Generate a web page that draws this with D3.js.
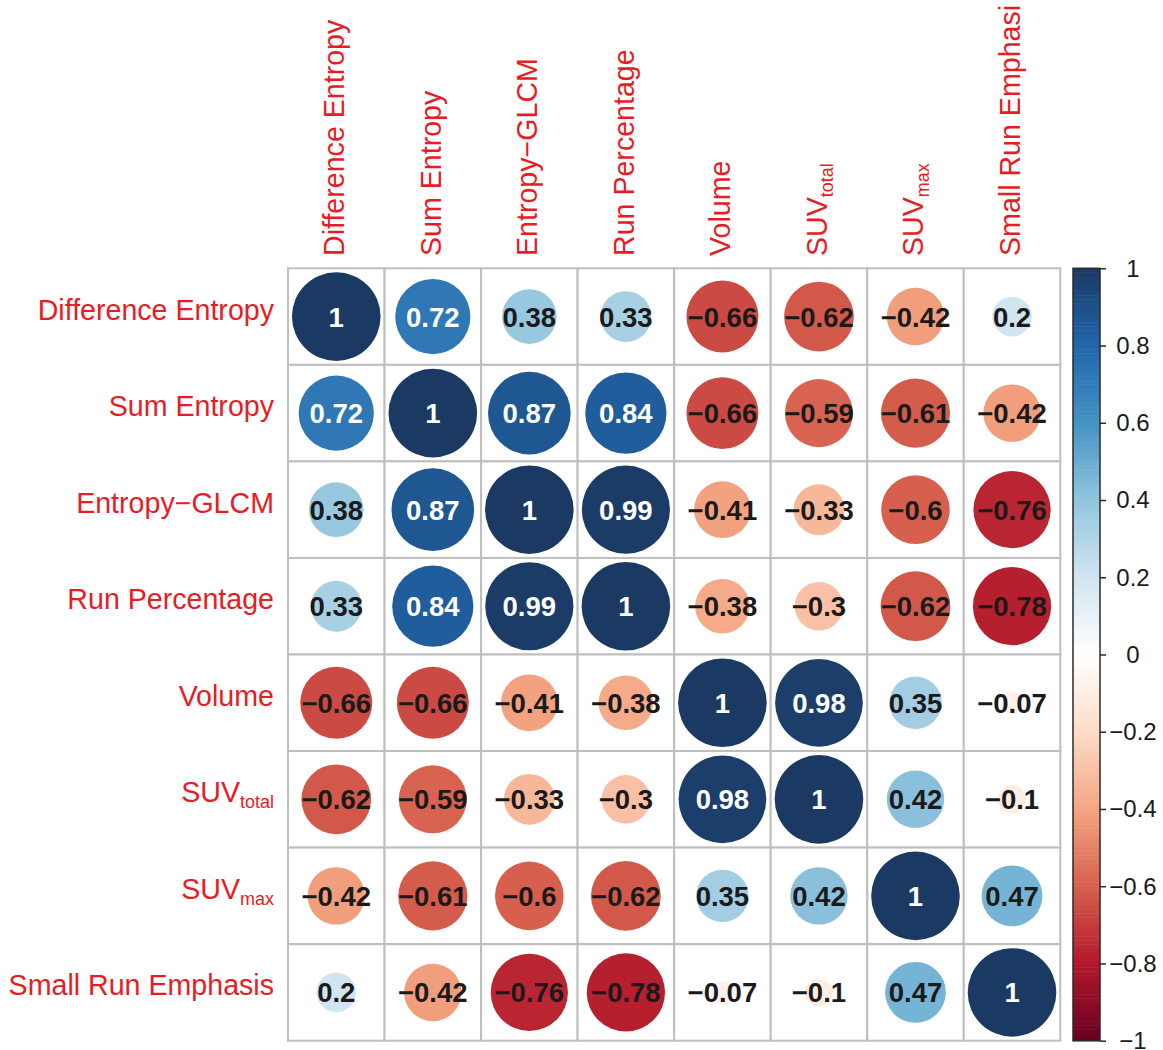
<!DOCTYPE html>
<html>
<head>
<meta charset="utf-8">
<script src="https://cdn.jsdelivr.net/npm/d3@7"></script>
<style>
  body { margin: 0; background: #fff; }
  svg { display: block; font-family: "Liberation Sans", Arial, sans-serif; }
</style>
</head>
<body>
<script>
// variable names (main part + subscript part)
const labelMain = ["Difference Entropy", "Sum Entropy", "Entropy\u2212GLCM", "Run Percentage",
                   "Volume", "SUV", "SUV", "Small Run Emphasis"];
const labelSub = ["", "", "", "", "", "total", "max", ""];

// correlation matrix, row by row
const corr = [
  [ 1.00,  0.72,  0.38,  0.33, -0.66, -0.62, -0.42,  0.20],
  [ 0.72,  1.00,  0.87,  0.84, -0.66, -0.59, -0.61, -0.42],
  [ 0.38,  0.87,  1.00,  0.99, -0.41, -0.33, -0.60, -0.76],
  [ 0.33,  0.84,  0.99,  1.00, -0.38, -0.30, -0.62, -0.78],
  [-0.66, -0.66, -0.41, -0.38,  1.00,  0.98,  0.35, -0.07],
  [-0.62, -0.59, -0.33, -0.30,  0.98,  1.00,  0.42, -0.10],
  [-0.42, -0.61, -0.60, -0.62,  0.35,  0.42,  1.00,  0.47],
  [ 0.20, -0.42, -0.76, -0.78, -0.07, -0.10,  0.47,  1.00]
];

const colorStops = [-1, -0.8, -0.6, -0.4, -0.2, 0, 0.2, 0.4, 0.6, 0.8, 1];
const colorbarTicks = [-1, -0.8, -0.6, -0.4, -0.2, 0, 0.2, 0.4, 0.6, 0.8, 1];

const W = 1163, H = 1050;
const grid = { left: 288, top: 268.3, right: 1060.3, bottom: 1040.7 };
const bar = { left: 1073, right: 1100 };
const RED = "#E81C24";

const palette = ["#67001F", "#B2182B", "#D6604D", "#F4A582", "#FDDBC7", "#FFFFFF",
                 "#D1E5F0", "#92C5DE", "#4393C3", "#2166AC", "#1B3A63"];

const color = d3.scaleLinear().domain(colorStops).range(palette).interpolate(d3.interpolateRgb);
const idx = d3.range(labelMain.length);
const x = d3.scaleBand().domain(idx).range([grid.left, grid.right]);
const y = d3.scaleBand().domain(idx).range([grid.top, grid.bottom]);
const r = d3.scaleSqrt().domain([0, 1]).range([0, 44.3]);

const svg = d3.select("body").append("svg").attr("width", W).attr("height", H);

// cells
const cells = [];
corr.forEach((row, i) => row.forEach((v, j) => cells.push({ i, j, v })));

svg.append("g").selectAll("rect").data(cells).join("rect")
  .attr("x", d => x(d.j)).attr("y", d => y(d.i))
  .attr("width", x.bandwidth()).attr("height", y.bandwidth())
  .attr("fill", "#fff").attr("stroke", "#BEBEBE").attr("stroke-width", 2);

svg.append("g").selectAll("circle").data(cells).join("circle")
  .attr("cx", d => x(d.j) + x.bandwidth() / 2)
  .attr("cy", d => y(d.i) + y.bandwidth() / 2)
  .attr("r", d => r(Math.abs(d.v)))
  .attr("fill", d => color(d.v));

const fmt = v => String(+v.toFixed(2)).replace("-", "\u2212");
svg.append("g").selectAll("text").data(cells).join("text")
  .attr("x", d => x(d.j) + x.bandwidth() / 2)
  .attr("y", d => y(d.i) + y.bandwidth() / 2 + 10)
  .attr("text-anchor", "middle")
  .attr("font-size", 27.5).attr("font-weight", "bold")
  .attr("fill", d => d.v > 0.6 ? "#fff" : "#1a1a1a")
  .text(d => fmt(d.v));

// labels, with optional subscript
function addLabel(sel, i) {
  sel.append("tspan").attr("font-size", 28.6).text(labelMain[i]);
  if (labelSub[i]) sel.append("tspan").attr("font-size", 18).attr("dy", 6).text(labelSub[i]);
}

svg.append("g").selectAll("text").data(idx).join("text")
  .attr("x", 274)
  .attr("y", i => y(i) + y.bandwidth() / 2 + 3)
  .attr("text-anchor", "end").attr("fill", RED)
  .each(function (i) { addLabel(d3.select(this), i); });

// column labels (rotated), top edge trimmed like the original
svg.append("clipPath").attr("id", "topclip")
  .append("rect").attr("x", 0).attr("y", 4).attr("width", W).attr("height", 262);

svg.append("g").attr("clip-path", "url(#topclip)")
  .selectAll("text").data(idx).join("text")
  .attr("transform", i => `translate(${x(i) + x.bandwidth() / 2 + 8},256) rotate(-90)`)
  .attr("text-anchor", "start").attr("fill", RED)
  .each(function (i) { addLabel(d3.select(this), i); });

// colour bar
const yb = d3.scaleLinear().domain([-1, 1]).range([grid.bottom, grid.top]);
const steps = d3.range(200).map(k => -1 + (k + 0.5) * 0.01);
svg.append("g").selectAll("rect").data(steps).join("rect")
  .attr("x", bar.left).attr("width", bar.right - bar.left)
  .attr("y", d => yb(d + 0.005)).attr("height", d => yb(d - 0.005) - yb(d + 0.005) + 0.5)
  .attr("fill", d => color(d));
svg.append("rect")
  .attr("x", bar.left).attr("y", grid.top)
  .attr("width", bar.right - bar.left).attr("height", grid.bottom - grid.top)
  .attr("fill", "none").attr("stroke", "#2a2a2a").attr("stroke-width", 1.5);

const axis = svg.append("g").attr("transform", `translate(${bar.right},0)`)
  .call(d3.axisRight(yb).tickValues(colorbarTicks).tickSize(6).tickFormat(d3.format("")));
axis.select(".domain").remove();
axis.selectAll(".tick line").attr("stroke", "#2a2a2a").attr("stroke-width", 1.5);
axis.selectAll(".tick text")
  .attr("x", 33).attr("dy", "0.33em").attr("text-anchor", "middle")
  .attr("font-size", 24).attr("font-family", "Liberation Sans, Arial, sans-serif")
  .attr("fill", "#1a1a1a");
</script>
</body>
</html>
